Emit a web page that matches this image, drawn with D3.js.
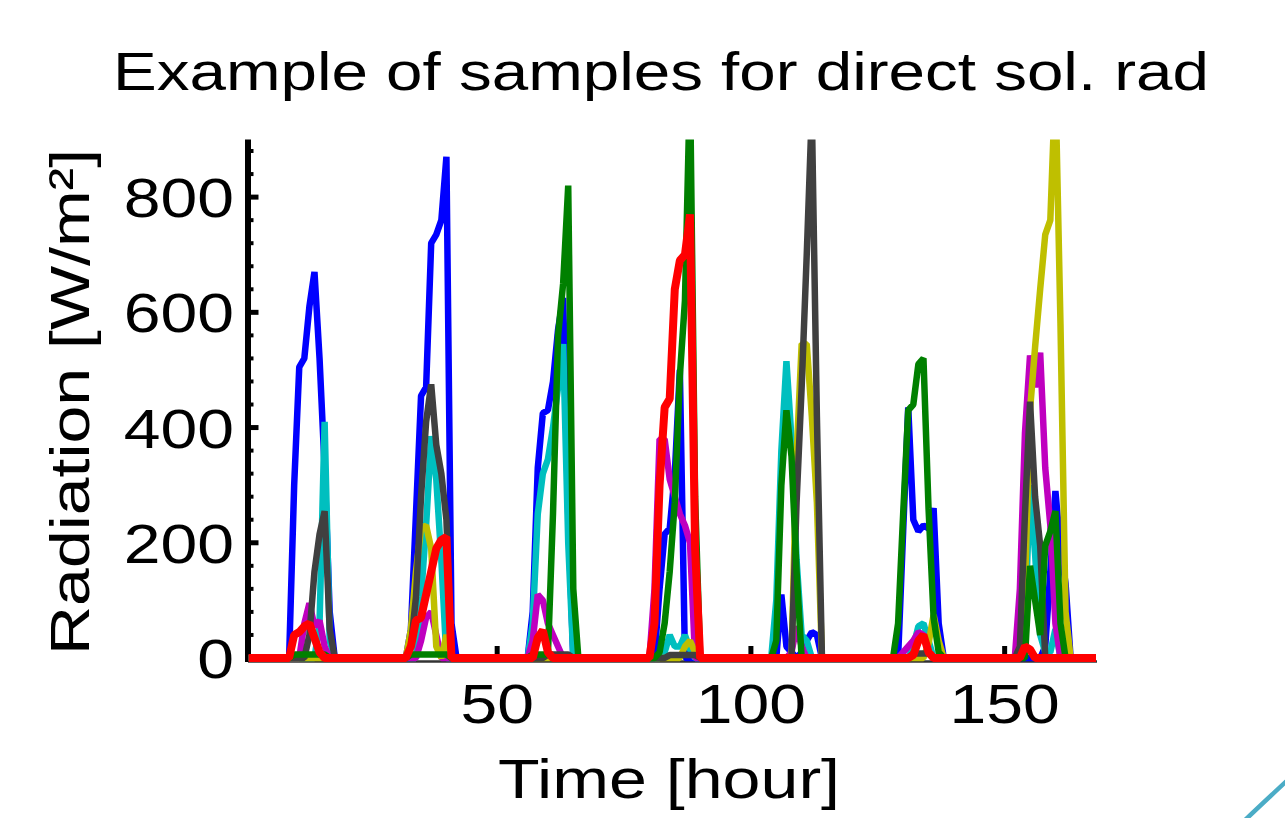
<!DOCTYPE html>
<html><head><meta charset="utf-8">
<script src="https://cdn.jsdelivr.net/npm/d3@7"></script>
<style>html,body{margin:0;padding:0;background:#fff;} svg{display:block;}</style>
</head><body>
<svg id="chart" width="1285" height="818"></svg>
<script>
// ---- data (hourly samples, hour 1..168, one row per day) ----
const hours = d3.range(1, 169);
const blue = [
0,0,0,0,0,0,0,0,0,300,505,520,610,670,520,330,80,0,0,0,0,0,0,0,
0,0,0,0,0,0,0,0,50,250,455,470,720,735,760,870,60,0,0,0,0,0,0,0,
0,0,0,0,0,0,0,0,80,330,425,430,480,570,625,250,0,0,0,0,0,0,0,0,
0,0,0,0,0,0,0,0,0,120,215,225,320,500,0,0,0,0,0,0,0,0,0,0,
0,0,0,0,0,0,0,0,0,110,20,10,0,10,30,45,40,0,0,0,0,0,0,0,
0,0,0,0,0,0,0,0,0,220,435,240,220,230,225,260,60,0,0,0,0,0,0,0,
0,0,0,0,0,0,0,0,0,0,0,0,0,20,150,290,190,130,0,0,0,0,0,0];
const green = [
0,0,0,0,0,0,0,0,0,6,6,6,6,6,6,6,0,0,0,0,0,0,0,0,
0,0,0,0,0,0,0,0,6,6,6,6,6,6,6,6,0,0,0,0,0,0,0,0,
0,0,0,0,0,0,0,0,6,6,6,6,250,560,650,820,120,0,0,0,0,0,0,0,
0,0,0,0,0,0,0,0,0,10,60,150,270,490,620,1000,280,0,0,0,0,0,0,0,
0,0,0,0,0,0,0,0,30,300,430,350,150,0,0,0,0,0,0,0,0,0,0,0,
0,0,0,0,0,0,0,0,60,250,430,440,510,520,260,70,10,0,0,0,0,0,0,0,
0,0,0,0,0,0,0,0,0,0,160,100,40,195,220,255,60,0,0,0,0,0,0,0];
const red = [
0,0,0,0,0,0,0,0,0,40,45,55,60,35,10,0,0,0,0,0,0,0,0,0,
0,0,0,0,0,0,0,0,20,65,70,110,150,190,205,210,0,0,0,0,0,0,0,0,
0,0,0,0,0,0,0,0,0,35,48,10,0,0,0,0,0,0,0,0,0,0,0,0,
0,0,0,0,0,0,0,0,60,300,435,450,640,690,700,770,190,0,0,0,0,0,0,0,
0,0,0,0,0,0,0,0,0,0,0,0,0,0,0,0,0,0,0,0,0,0,0,0,
0,0,0,0,0,0,0,0,0,0,0,5,30,40,10,0,0,0,0,0,0,0,0,0,
0,0,0,0,0,0,0,0,0,20,15,0,0,0,0,0,0,0,0,0,0,0,0,0];
const cyan = [
0,0,0,0,0,0,0,0,0,0,0,0,0,0,60,410,30,0,0,0,0,0,0,0,
0,0,0,0,0,0,0,0,0,0,106,230,385,310,170,0,0,0,0,0,0,0,0,0,
0,0,0,0,0,0,0,0,60,250,320,345,400,470,545,200,0,0,0,0,0,0,0,0,
0,0,0,0,0,0,0,0,0,0,10,40,20,20,40,15,0,0,0,0,0,0,0,0,
0,0,0,0,0,0,0,0,100,360,515,380,170,40,30,0,0,0,0,0,0,0,0,0,
0,0,0,0,0,0,0,0,0,0,0,20,55,60,30,0,0,0,0,0,0,0,0,0,
0,0,0,0,0,0,0,0,0,60,300,180,40,10,10,50,0,0,0,0,0,0,0,0];
const magenta = [
0,0,0,0,0,0,0,0,0,0,0,60,95,55,65,20,0,0,0,0,0,0,0,0,
0,0,0,0,0,0,0,0,0,0,30,70,80,40,0,0,0,0,0,0,0,0,0,0,
0,0,0,0,0,0,0,0,30,110,100,60,40,20,0,0,0,0,0,0,0,0,0,0,
0,0,0,0,0,0,0,0,120,380,380,310,280,250,230,200,0,0,0,0,0,0,0,0,
0,0,0,0,0,0,0,0,0,0,0,10,55,20,0,0,0,0,0,0,0,0,0,0,
0,0,0,0,0,0,0,0,0,10,20,30,45,40,10,0,0,0,0,0,0,0,0,0,
0,0,0,0,0,0,0,0,120,390,525,470,530,330,230,60,0,0,0,0,0,0,0,0];
const yellow = [
0,0,0,0,0,0,0,0,0,0,0,0,0,0,0,0,0,0,0,0,0,0,0,0,
0,0,0,0,0,0,0,0,50,150,225,230,190,20,0,40,0,0,0,0,0,0,0,0,
0,0,0,0,0,0,0,0,0,0,0,0,0,0,0,0,0,0,0,0,0,0,0,0,
0,0,0,0,0,0,0,0,0,0,0,0,0,0,20,30,10,0,0,0,0,0,0,0,
0,0,0,0,0,0,0,0,0,0,0,0,350,545,545,420,270,0,0,0,0,0,0,0,
0,0,0,0,0,0,0,0,0,0,0,0,0,0,25,75,30,0,0,0,0,0,0,0,
0,0,0,0,0,0,0,0,0,120,430,540,640,735,760,1000,580,80,0,0,0,0,0,0];
const gray = [
0,0,0,0,0,0,0,0,0,0,0,0,40,150,215,255,50,0,0,0,0,0,0,0,
0,0,0,0,0,0,0,0,20,106,280,410,475,370,320,240,0,0,0,0,0,0,0,0,
0,0,0,0,0,0,0,0,0,0,0,6,6,6,6,6,0,0,0,0,0,0,0,0,
0,0,0,0,0,0,0,0,0,0,0,5,5,5,5,5,5,0,0,0,0,0,0,0,
0,0,0,0,0,0,0,0,0,0,0,0,270,470,700,950,420,0,0,0,0,0,0,0,
0,0,0,0,0,0,0,0,0,0,0,8,8,8,8,0,0,0,0,0,0,0,0,0,
0,0,0,0,0,0,0,0,20,250,445,280,195,0,0,0,0,0,0,0,0,0,0,0];

const xTicks = [50, 100, 150];
const yTicks = [0, 200, 400, 600, 800];
const titleText = "Example of samples for direct sol. rad";
const xLabelText = "Time [hour]";
const yLabelText = "Radiation [W/m²]";

// drawing order (red last, on top)
const seriesList = [
  {values: blue,    color: "#0000ff", width: 6.5},
  {values: cyan,    color: "#00bfbf", width: 6.5},
  {values: magenta, color: "#bf00bf", width: 6.5},
  {values: yellow,  color: "#bfbf00", width: 6.5},
  {values: gray,    color: "#404040", width: 6.5},
  {values: green,   color: "#008000", width: 6.5},
  {values: red,     color: "#ff0000", width: 8}
];

// ---- layout ----
const svg = d3.select("#chart");
const FONT = "'Liberation Sans', Arial, Helvetica, sans-serif";
const x = d3.scaleLinear().domain([1, 168]).range([248.5, 1096]);
const y = d3.scaleLinear().domain([0, 900]).range([658, 139.5]);
const stretch = 1.18;

svg.append("rect").attr("width", 1285).attr("height", 818).attr("fill", "#fff");

function stretchText(sel, target) {
  const n = sel.node();
  const L = n.getComputedTextLength();
  sel.attr("textLength", target != null ? target : L * stretch)
     .attr("lengthAdjust", "spacingAndGlyphs");
}

// title
const title = svg.append("text").attr("x", 661).attr("y", 90)
  .attr("text-anchor", "middle").attr("font-family", FONT).attr("font-size", 53)
  .attr("fill", "#000").text(titleText);
stretchText(title, 1096);

// axes (under the lines)
const axG = svg.append("g");
axG.append("line").attr("x1", x(1) - 0.5).attr("x2", 1097).attr("y1", 661.5).attr("y2", 661.5)
  .attr("stroke", "#333").attr("stroke-width", 2.5);
axG.selectAll(".xt").data(xTicks).join("line")
  .attr("x1", d => x(d)).attr("x2", d => x(d)).attr("y1", 661).attr("y2", 646)
  .attr("stroke", "#000").attr("stroke-width", 5);
axG.append("line").attr("x1", 248).attr("x2", 248).attr("y1", y(900)).attr("y2", 662)
  .attr("stroke", "#000").attr("stroke-width", 6);
const yMinor = d3.range(40, 900, 40).filter(v => v % 200 !== 0);
axG.selectAll(".ym").data(yMinor).join("line")
  .attr("x1", 248).attr("x2", 253.5).attr("y1", d => y(d)).attr("y2", d => y(d))
  .attr("stroke", "#000").attr("stroke-width", 4);
axG.selectAll(".yM").data(yTicks).join("line")
  .attr("x1", 248).attr("x2", 258.5).attr("y1", d => y(d)).attr("y2", d => y(d))
  .attr("stroke", "#000").attr("stroke-width", 5);

// tick labels
svg.selectAll(".ytl").data(yTicks).join("text")
  .attr("x", 234).attr("y", d => y(d) + 20)
  .attr("text-anchor", "end").attr("font-family", FONT).attr("font-size", 56)
  .attr("fill", "#000").text(d => d)
  .each(function() { stretchText(d3.select(this)); });
svg.selectAll(".xtl").data(xTicks).join("text")
  .attr("x", d => x(d)).attr("y", 723)
  .attr("text-anchor", "middle").attr("font-family", FONT).attr("font-size", 56)
  .attr("fill", "#000").text(d => d)
  .each(function() { stretchText(d3.select(this)); });

// axis labels
const xl = svg.append("text").attr("x", 669).attr("y", 798)
  .attr("text-anchor", "middle").attr("font-family", FONT).attr("font-size", 56)
  .attr("fill", "#000").text(xLabelText);
stretchText(xl, 342);
const yl = svg.append("text").attr("transform", "translate(89,402) rotate(-90)")
  .attr("text-anchor", "middle").attr("font-family", FONT).attr("font-size", 56)
  .attr("fill", "#000").text(yLabelText);
stretchText(yl, 506);

// clip for data lines (top & sides of axes box)
svg.append("defs").append("clipPath").attr("id", "plotclip")
  .append("rect").attr("x", 248.5).attr("y", y(900)).attr("width", 1096 - 248.5).attr("height", 560);

const line = d3.line().x((d, i) => x(hours[i])).y(d => y(d));
svg.append("g").attr("clip-path", "url(#plotclip)")
  .selectAll("path").data(seriesList).join("path")
  .attr("d", s => line(s.values))
  .attr("fill", "none")
  .attr("stroke", s => s.color)
  .attr("stroke-width", s => s.width)
  .attr("stroke-linejoin", "bevel")
  .attr("stroke-linecap", "butt");

// slide decoration (teal curve bottom-right)
svg.append("path").attr("d", "M1243,822 Q1262,804 1292,776")
  .attr("fill", "none").attr("stroke", "#4bacc6").attr("stroke-width", 4.5);
</script>
</body></html>
